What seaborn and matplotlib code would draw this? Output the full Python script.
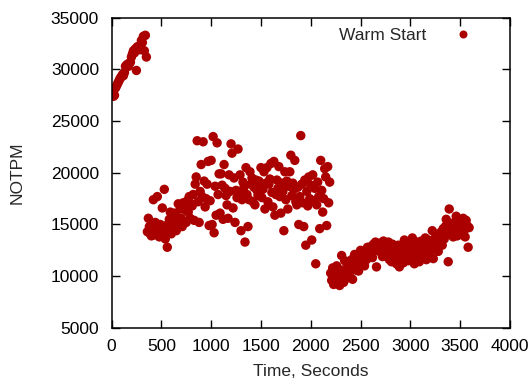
import numpy as np
import pandas as pd
import matplotlib
matplotlib.use("Agg")
import matplotlib.pyplot as plt
import seaborn as sns

# NOTPM sampled every 10 seconds
warm_phase = [
    27800, 28000, 27400, 27500, 28200, 28400, 28600, 28800, 29000, 29200,
    29300, 29500, 29400, 29700, 30300, 30400, 30500, 30300, 30600, 30700,
    31200, 31500, 31800, 31600, 32000, 29900, 32200, 32100, 31900, 32300,
    32800, 32600, 33200, 31800, 33300, 31200,
]
mid_phase = [
    14300, 15600, 14800, 14100, 13900, 14500, 17400, 14000, 15200, 14200,
    17700, 14600, 13800, 15000, 14400, 16600, 14300, 18400, 13600, 14900,
    12800, 14700, 15500, 16200, 14100, 15300, 14600, 16100, 15000, 14400,
    15700, 17000, 14900, 16500, 15600, 14800, 17100, 15300, 16400, 15200,
    17300, 16200, 17700, 15600, 17000, 16800, 17900, 15400, 18900, 19600,
    23100, 17200, 15200, 18200, 20800, 17700, 23000, 19200, 16700, 17500,
    18900, 21100, 14900, 17300, 21200, 15000, 23500, 14200, 18700, 15900,
    22900, 17900, 19900, 16100, 19900, 18800, 15500, 20800, 18500, 17800,
    16900, 15600, 19800, 18200, 22800, 21900, 16600, 19500, 15200, 18300,
    17600, 22300, 18000, 19800, 14400, 17400, 19100, 18600, 13300, 20500,
    17900, 14800, 17400, 20100, 18900, 19500, 17200, 18600, 16900, 19300,
    18300, 17800, 19200, 18800, 20500, 17600, 18400, 20100, 16500, 19000,
    20500, 17200, 18900, 19400, 20900, 18100, 16700, 21100, 15900, 17900,
    19300, 18500, 20600, 17700, 16100, 19000, 18200, 14400, 20100, 17400,
    19200, 16500, 18700, 20100, 21700, 17800, 19000, 18400, 21200, 17200,
    16900, 18600, 15000, 17700, 23600, 18900, 17100, 14800, 19300, 13000,
    18200, 16800, 19600, 17500, 18800, 13500, 19800, 17300, 18500, 11200,
    16900, 19100, 17700, 14600, 21200, 18300, 16200, 17500, 20400, 19600,
    14900, 20600, 17100, 19100,
]
late_phase = [
    10300, 9600, 10800, 9200, 10100, 9800, 11000, 9500, 10400, 9100,
    9900, 12000, 10600, 9400, 11500, 10200, 9800, 10900, 11300, 10000,
    10700, 11600, 9700, 11100, 12100, 10600, 11800, 11200, 10500, 11700,
    12500, 11300, 12000, 12400, 11000, 12200, 11600, 12800, 12300, 12200,
    12700, 12900, 11800, 13100, 12600, 13300, 10900, 12500, 13000, 12400,
    13200, 12700, 11900, 13400, 13000, 12300, 11900, 12800, 13300, 11600,
    12600, 11400, 13100, 12100, 11800, 12700, 11200, 12400, 13000, 10900,
    12200, 11600, 12900, 11300, 13500, 12000, 11900, 12600, 11500, 13200,
    12400, 11700, 13700, 12100, 11200, 12800, 11900, 13300, 12500, 11400,
    12900, 13400, 11800, 12300, 13000, 13700, 11600, 12700, 13500, 12200,
    13100, 12600, 14400, 11700, 13600, 12900, 13300, 14000, 12400, 13800,
    13300, 14300, 13000, 14600, 13600, 14800, 15500, 14100, 11400, 16500,
    14200, 15000, 14700, 13800, 15200, 14400, 15800, 13900, 14900, 15300,
    14600, 15100, 14000, 15600, 14400, 13800, 15400, 14900, 12800, 14700,
]

notpm = warm_phase + mid_phase + late_phase
seconds = np.arange(len(notpm)) * 10

df = pd.DataFrame({"Time, Seconds": seconds, "NOTPM": notpm, "run": "Warm Start"})

sns.set_theme(style="ticks")
plt.rcParams["font.family"] = ["Liberation Sans", "DejaVu Sans"]
fs = 12.5

fig, ax = plt.subplots(figsize=(5.32, 3.81), dpi=100)
fig.subplots_adjust(left=0.2096, right=0.9586, top=0.9535, bottom=0.1394)

sns.scatterplot(
    data=df,
    x="Time, Seconds",
    y="NOTPM",
    hue="run",
    palette=["#aa0000"],
    s=46,
    edgecolor="none",
    ax=ax,
)

ax.set_xlim(0, 4000)
ax.set_ylim(5000, 35000)
ax.set_xticks(range(0, 4001, 500))
ax.set_yticks(range(5000, 35001, 5000))
ax.tick_params(direction="in", length=6, width=1, top=True, right=True,
               labelsize=fs, colors="black")
ax.tick_params(axis="x", pad=8)
ax.tick_params(axis="y", pad=9)
for sp in ax.spines.values():
    sp.set_linewidth(1.1)
    sp.set_color("black")

ax.set_xlabel("Time, Seconds", fontsize=fs)
ax.set_ylabel("NOTPM", fontsize=fs)
ax.xaxis.set_label_coords(0.5, (327.9 - 372) / 310.2)
ax.xaxis.label.set_verticalalignment("center")
ax.yaxis.set_label_coords((17 - 111.5) / 398.5, 0.5)
ax.yaxis.label.set_verticalalignment("center")

ax.legend(loc="center right", bbox_to_anchor=(0.9247, 0.944), frameon=False,
          markerfirst=False, fontsize=fs, markerscale=0.85, handletextpad=1.07,
          handlelength=2.0, borderaxespad=0, borderpad=0)

fig.savefig("out.png", dpi=100)
